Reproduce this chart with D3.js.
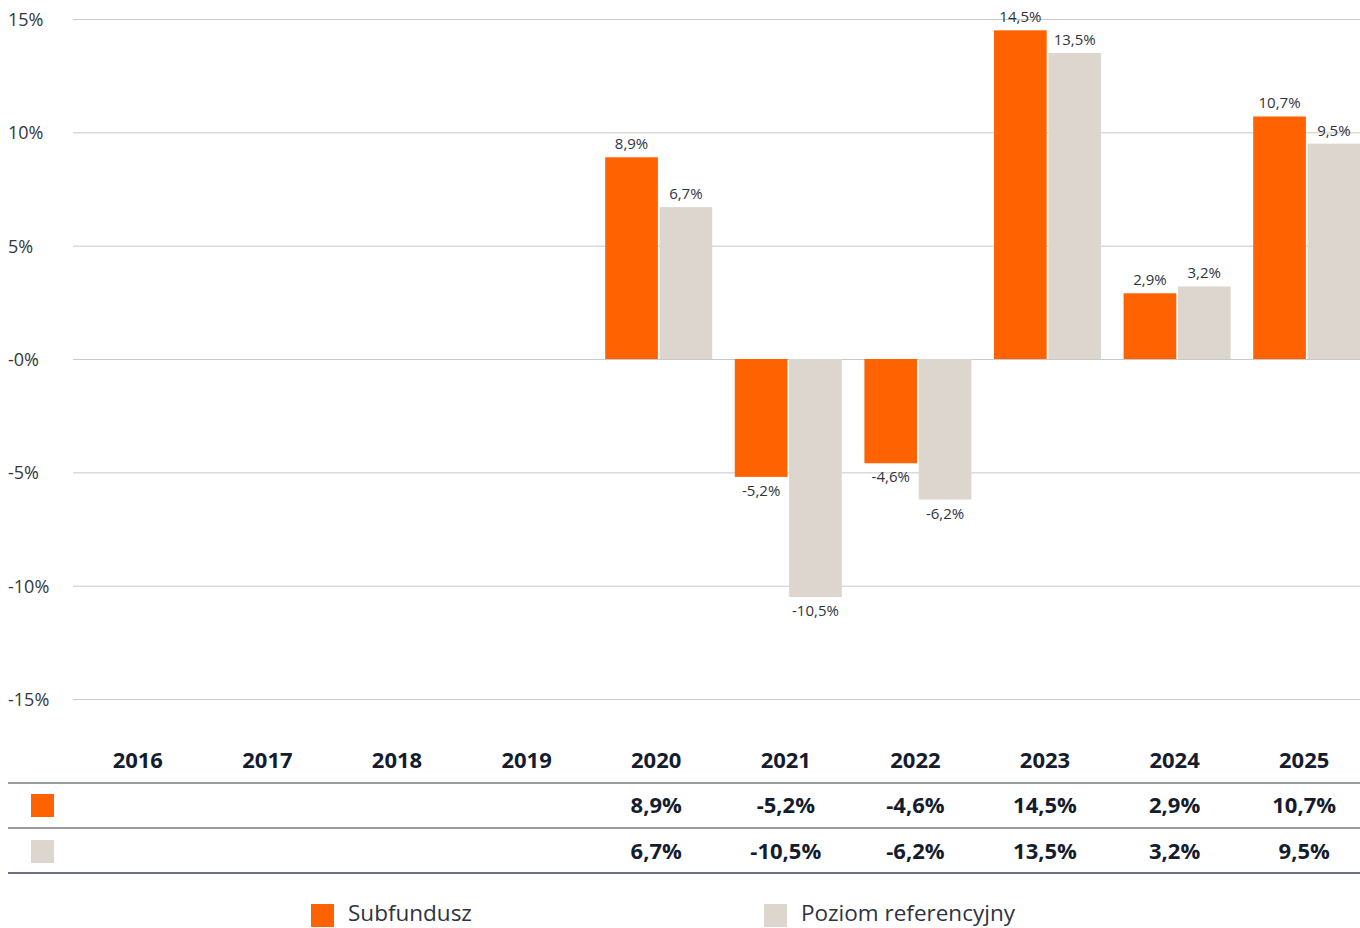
<!DOCTYPE html>
<html>
<head>
<meta charset="utf-8">
<script src="https://cdn.jsdelivr.net/npm/d3@7"></script>
<style>
  body { margin: 0; background: #fff; }
  svg { font-family: "Open Sans", "Noto Sans", sans-serif; }
  .grid line { stroke: #c9c9c9; stroke-width: 1; }
  .grid path { display: none; }
  .ylab text { fill: #333740; font-size: 18px; }
  .vlab { fill: #2f3340; font-size: 15px; }
  .tbl { fill: #151c2e; font-size: 22px; font-weight: 700; }
  .leg { fill: #2f3340; font-size: 22.5px; }
</style>
</head>
<body>
<div id="chart"></div>
<script>
// chart data
var years = ["2016","2017","2018","2019","2020","2021","2022","2023","2024","2025"];
var seriesNames = ["Subfundusz", "Poziom referencyjny"];
var fundValues = [null, null, null, null, 8.9, -5.2, -4.6, 14.5, 2.9, 10.7];
var benchValues = [null, null, null, null, 6.7, -10.5, -6.2, 13.5, 3.2, 9.5];
var yTicks = [15, 10, 5, 0, -5, -10, -15];
var yTickLabels = ["15%", "10%", "5%", "-0%", "-5%", "-10%", "-15%"];
var colors = ["#ff6200", "#dcd6cf"];

var W = 1360, H = 928;
var svg = d3.select("#chart").append("svg").attr("width", W).attr("height", H);

var pl = d3.formatLocale({decimal: ",", thousands: " ", grouping: [3], currency: ["", ""], minus: "-"});
var fmt = pl.format(".1f");
function pct(v){ return fmt(v) + "%"; }

var y = d3.scaleLinear().domain([-15, 15]).range([699, 19]);
var x0 = d3.scaleBand().domain(years).range([73, 1369]);
var x1 = d3.scaleBand().domain(seriesNames).range([-51, 56]).paddingInner(0.03);

// gridlines
svg.append("g").attr("class", "grid")
  .attr("transform", "translate(73,0)")
  .call(d3.axisRight(y).tickValues(yTicks).tickSize(W - 73).tickFormat(""));

// y labels
svg.append("g").attr("class", "ylab").selectAll("text")
  .data(yTicks).enter().append("text")
  .attr("x", 8).attr("y", function(d){ return y(d) + 7; })
  .text(function(d, i){ return yTickLabels[i]; });

var rows = years.map(function(yr, i){ return {year: yr, vals: [fundValues[i], benchValues[i]]}; });

// bars
var groups = svg.append("g").selectAll("g").data(rows).enter().append("g")
  .attr("transform", function(d){ return "translate(" + (x0(d.year) + x0.bandwidth()/2) + ",0)"; });

function present(d){
  return d.vals.map(function(v, k){ return {v: v, k: k}; }).filter(function(e){ return e.v !== null; });
}

groups.selectAll("rect")
  .data(present)
  .enter().append("rect")
  .attr("x", function(d){ return x1(seriesNames[d.k]); })
  .attr("width", x1.bandwidth())
  .attr("y", function(d){ return y(Math.max(0, d.v)); })
  .attr("height", function(d){ return Math.abs(y(d.v) - y(0)); })
  .attr("fill", function(d){ return colors[d.k]; });

groups.selectAll("text")
  .data(present)
  .enter().append("text")
  .attr("class", "vlab")
  .attr("text-anchor", "middle")
  .attr("x", function(d){ return x1(seriesNames[d.k]) + x1.bandwidth()/2; })
  .attr("y", function(d){ return d.v >= 0 ? y(d.v) - 8 : y(d.v) + 19; })
  .text(function(d){ return pct(d.v); });

// table
var tbl = svg.append("g");
tbl.selectAll(".yr").data(years).enter().append("text")
  .attr("class", "tbl").attr("text-anchor", "middle")
  .attr("x", function(d){ return x0(d) + x0.bandwidth()/2; })
  .attr("y", 768)
  .text(function(d){ return d; });

[783, 828, 873].forEach(function(ly, i){
  tbl.append("line").attr("x1", 8).attr("x2", W).attr("y1", ly).attr("y2", ly)
    .attr("stroke", i === 2 ? "#3c4150" : "#7a7d86").attr("stroke-width", 1.3);
});

[fundValues, benchValues].forEach(function(vals, k){
  var cy = 805 + k * 46;
  tbl.append("rect").attr("x", 31).attr("y", cy - 11).attr("width", 23).attr("height", 23).attr("fill", colors[k]);
  tbl.selectAll(".r" + k).data(vals).enter().append("text")
    .attr("class", "tbl").attr("text-anchor", "middle")
    .attr("x", function(d, i){ return x0(years[i]) + x0.bandwidth()/2; })
    .attr("y", cy + 8)
    .text(function(d){ return d === null ? "" : pct(d); });
});

// legend
var legX = [311, 764];
seriesNames.forEach(function(name, k){
  svg.append("rect").attr("x", legX[k]).attr("y", 904).attr("width", 23).attr("height", 23).attr("fill", colors[k]);
  svg.append("text").attr("class", "leg").attr("x", legX[k] + 37).attr("y", 921).text(name);
});
</script>
</body>
</html>
